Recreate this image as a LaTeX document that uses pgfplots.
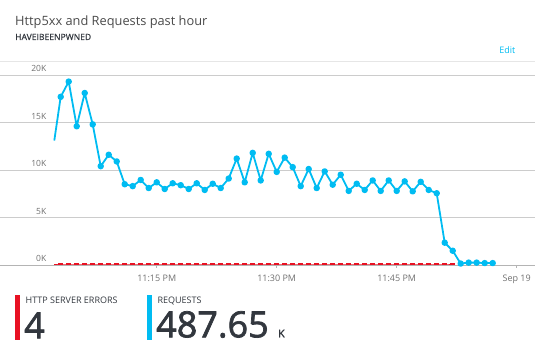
\documentclass[border=0pt]{standalone}
\usepackage{pgfplots}
\pgfplotsset{compat=1.18}
\usepackage{fontspec}
\setmainfont{Open Sans}
\newfontfamily\bigfont[FakeBold=2]{Open Sans}
\newfontfamily\semifont[FakeBold=0.6]{Open Sans}
\definecolor{azblue}{HTML}{00BCF2}
\definecolor{azred}{HTML}{E81123}
\definecolor{bigtext}{HTML}{32373E}
\definecolor{titlegray}{HTML}{4A4A4A}
\definecolor{labelgray}{HTML}{707070}
\definecolor{gridgray}{HTML}{CCCCCC}
\definecolor{topgray}{HTML}{E6E6E6}
\definecolor{basegray}{HTML}{B4B4B4}

% minutes after 11:00 PM, requests in thousands
\pgfplotstableread{
t v
2.2 13.1
3 17.7
4 19.3
5 14.6
6 18.1
7 14.8
8 10.4
9 11.6
10 10.9
11 8.5
12 8.3
13 8.95
14 8.1
15 8.7
16 8.0
17 8.6
18 8.4
19 8.0
20 8.6
21 7.9
22 8.55
23 8.1
24 9.1
25 11.2
26 8.7
27 11.8
28 8.9
29 11.7
30 9.8
31 11.3
32 10.3
33 8.3
34 10.1
35 8.1
36 9.85
37 8.45
38 9.5
39 7.8
40 8.55
41 7.9
42 8.9
43 7.8
44 8.9
45 7.8
46 8.8
47 7.75
48 8.75
49 7.9
50 7.55
51 2.35
52 1.5
53 0.15
54 0.25
55 0.25
56 0.2
57 0.2
}\requests

\pgfplotstableread{
t v
2.2 0
3 0
4 0
5 0
6 0
7 0
8 0
9 0
10 0
11 0
12 0
13 0
14 0
15 0
16 0
17 0
18 0
19 0
20 0
21 0
22 0
23 0
24 0
25 0
26 0
27 0
28 0
29 0
30 0
31 0
32 0
33 0
34 0
35 0
36 0
37 0
38 0
39 0
40 0
41 0
42 0
43 0
44 0
45 0
46 0
47 0
48 0
49 0
50 0
51 0
52 0
}\errors

\begin{document}
\begin{tikzpicture}
\path[use as bounding box] (0pt,0pt) rectangle (535pt,355pt);
% header
\node[anchor=base west, inner sep=0pt, text=titlegray, font=\fontsize{12.8}{15}\selectfont] at (15pt,329.5pt) {Http5xx and Requests past hour};
\node[anchor=base west, inner sep=0pt, text=bigtext, font=\fontsize{8.6}{10}\selectfont\semifont] at (15pt,315pt) {HAVEIBEENPWNED};
\node[anchor=base east, inner sep=0pt, text=azblue, font=\fontsize{9}{11}\selectfont] at (515.5pt,301.7pt) {Edit};

\begin{axis}[
  at={(0pt,90pt)}, anchor=south west,
  scale only axis, width=535pt, height=204pt,
  xmin=-4.5875, xmax=62.29, ymin=0, ymax=21.47,
  clip=false,
  axis line style={draw=none},
  /pgf/number format/assume math mode=true,
  ytick={0,5,10,15,20},
  yticklabel={\pgfmathprintnumber{\tick}K},
  yticklabel style={anchor=base east, inner sep=0pt, xshift=49.5pt, yshift=3.3pt,
    font=\fontsize{8.5}{10}\selectfont, text=labelgray},
  ytick style={draw=none},
  ymajorgrids,
  grid style={draw=gridgray, line width=0.8pt},
  extra y ticks={21.47},
  extra y tick labels={},
  extra y tick style={grid style={draw=topgray, line width=0.8pt}},
  xtick={15,30,45,60},
  xticklabels={11:15 PM, 11:30 PM, 11:45 PM, Sep 19},
  xtick pos=left,
  tick align=outside,
  major tick length=3pt,
  xtick style={draw=basegray, line width=0.6pt},
  xticklabel style={font=\fontsize{9}{11}\selectfont, text=labelgray, inner sep=0pt, yshift=-7pt},
]
\draw[basegray, line width=0.9pt] (axis cs:-4.5875,0) -- (axis cs:62.29,0);
\addplot[azred, line width=0.7pt, yshift=1pt,
  mark=-, mark size=2.2pt, mark phase=2, mark repeat=1, mark options={solid, line width=1.8pt}] table[x=t,y=v] {\errors};
\addplot[azblue, line width=1.8pt, line join=round,
  mark=*, mark size=2.3pt, mark phase=2, mark repeat=1, mark options={solid}] table[x=t,y=v] {\requests};
\end{axis}

% footer
\fill[azred] (15pt,15pt) rectangle (20pt,60pt);
\node[anchor=base west, inner sep=0pt, text=bigtext, font=\fontsize{9}{11}\selectfont] at (25.5pt,51pt) {HTTP SERVER ERRORS};
\node[anchor=base west, inner sep=0pt, text=bigtext, font=\fontsize{36}{40}\selectfont\bigfont] at (24pt,16.7pt) {4};
\fill[azblue] (147pt,15pt) rectangle (152pt,60pt);
\node[anchor=base west, inner sep=0pt, text=bigtext, font=\fontsize{9}{11}\selectfont] at (157.3pt,51pt) {REQUESTS};
\node[anchor=base west, inner sep=0pt, text=bigtext, font=\fontsize{36}{40}\selectfont\bigfont] at (156pt,17.7pt) {487.65};
\node[anchor=base west, inner sep=0pt, text=bigtext, font=\fontsize{10.5}{12}\selectfont\bigfont] at (278pt,17.7pt) {K};
\end{tikzpicture}
\end{document}
